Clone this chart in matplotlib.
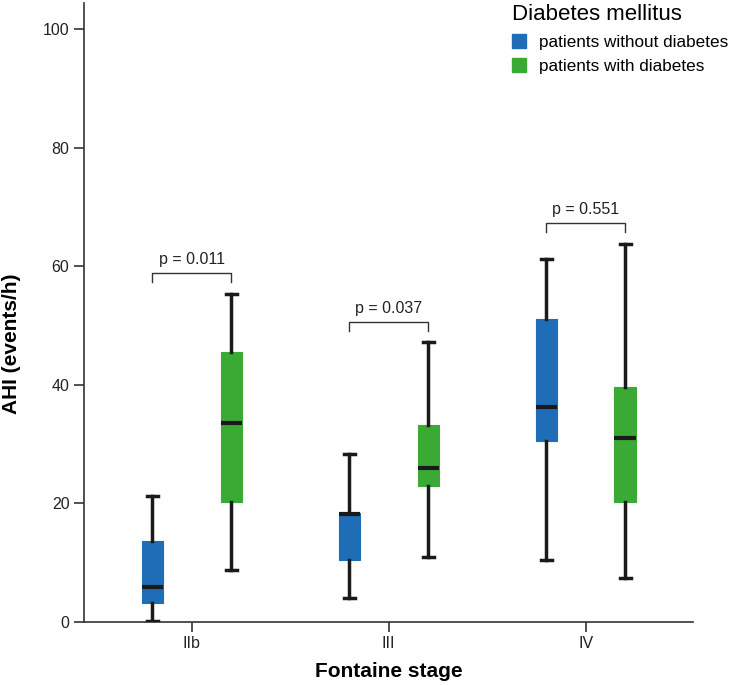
import matplotlib
matplotlib.use("Agg")
import matplotlib.pyplot as plt
import matplotlib.patches as mpatches
import numpy as np

plt.rcParams["font.family"] = ["Liberation Sans", "DejaVu Sans"]

# Data
stages = ["IIb", "III", "IV"]
groups = ["patients without diabetes", "patients with diabetes"]
colors = ["#1f6cb7", "#3aaa35"]

# per group: whisker low, Q1, median, Q3, whisker high (one value per stage)
no_dm_whislo = [0.2, 4.1, 10.4]
no_dm_q1 = [3.2, 10.5, 30.5]
no_dm_med = [5.9, 18.2, 36.2]
no_dm_q3 = [13.7, 18.4, 51.1]
no_dm_whishi = [21.2, 28.4, 61.3]

dm_whislo = [8.8, 10.9, 7.5]
dm_q1 = [20.2, 23.0, 20.2]
dm_med = [33.5, 25.9, 31.0]
dm_q3 = [45.6, 33.3, 39.7]
dm_whishi = [55.3, 47.2, 63.7]

p_values = ["p = 0.011", "p = 0.037", "p = 0.551"]
bracket_y = [58.9, 50.6, 67.3]


def make_stats(lo, q1, med, q3, hi):
    return [
        {"whislo": a, "q1": b, "med": c, "q3": d, "whishi": e, "fliers": []}
        for a, b, c, d, e in zip(lo, q1, med, q3, hi)
    ]


series = [
    make_stats(no_dm_whislo, no_dm_q1, no_dm_med, no_dm_q3, no_dm_whishi),
    make_stats(dm_whislo, dm_q1, dm_med, dm_q3, dm_whishi),
]

fig = plt.figure(figsize=(7.33, 6.85), dpi=100)
ax = fig.add_axes([0.1146, 0.092, 0.8308, 0.9036])

x = np.arange(len(stages))
offset = 0.2
width = 0.107

for k, (stats, color) in enumerate(zip(series, colors)):
    pos = x + (2 * k - 1) * offset
    ax.bxp(
        stats,
        positions=pos,
        widths=width,
        patch_artist=True,
        showfliers=False,
        boxprops={"facecolor": color, "edgecolor": color, "linewidth": 0.8},
        medianprops={"color": "#1a1a1a", "linewidth": 3},
        whiskerprops={"color": "#1a1a1a", "linewidth": 2.5},
        capprops={"color": "#1a1a1a", "linewidth": 2.5},
        capwidths=0.056,
        manage_ticks=False,
        zorder=3,
    )

# significance brackets
for i, (label, yb) in enumerate(zip(p_values, bracket_y)):
    x0, x1 = x[i] - offset, x[i] + offset
    ax.plot([x0, x0, x1, x1], [yb - 1.5, yb, yb, yb - 1.5],
            color="#333333", linewidth=1.0)
    ax.annotate(label, (x[i], yb), xytext=(0, 4), textcoords="offset points",
                ha="center", va="bottom", fontsize=11.5, color="#222222")

ax.set_xlim(-0.547, 2.545)
ax.set_ylim(0, 104.4)
ax.set_xticks(x)
ax.set_xticklabels(stages)
ax.set_yticks(np.arange(0, 101, 20))

for side in ["top", "right"]:
    ax.spines[side].set_visible(False)
for side in ["left", "bottom"]:
    ax.spines[side].set_color("#333333")
    ax.spines[side].set_linewidth(1.2)
ax.tick_params(axis="both", colors="#333333", labelsize=11.5, labelcolor="#222222",
               length=7, width=1.2)
ax.tick_params(axis="x", pad=3)

ax.set_xlabel("Fontaine stage", fontsize=15, fontweight="bold", labelpad=8)
ax.set_ylabel("AHI (events/h)", fontsize=15, fontweight="bold")
ax.yaxis.set_label_coords(-0.103, 0.449)

handles = [mpatches.Patch(facecolor=c, edgecolor=c) for c in colors]
leg = fig.legend(
    handles,
    groups,
    title="Diabetes mellitus",
    loc="upper left",
    bbox_to_anchor=(0.677, 1.016),
    frameon=False,
    fontsize=12.3,
    title_fontsize=16,
    handlelength=0.85,
    handleheight=0.85,
    handletextpad=0.75,
    labelspacing=0.5,
)
leg._legend_box.align = "left"

fig.savefig("out.png", dpi=100)
